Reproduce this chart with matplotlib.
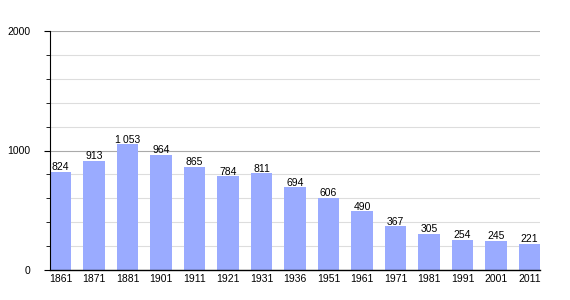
import matplotlib
matplotlib.use('Agg')
import matplotlib.pyplot as plt
import numpy as np

years = ['1861', '1871', '1881', '1901', '1911', '1921', '1931', '1936',
         '1951', '1961', '1971', '1981', '1991', '2001', '2011']
population = [824, 913, 1053, 964, 865, 784, 811, 694, 606, 490, 367, 305, 254, 245, 221]

plt.rcParams['font.family'] = ['Liberation Sans', 'DejaVu Sans']

fig = plt.figure(figsize=(5.7, 3.0), dpi=100)
ax = fig.add_axes([50/570, 30/300, 490/570, 239/300])

x = np.arange(len(years))
ax.bar(x, population, width=0.63, color='#9aabff', zorder=2)

for xi, v in zip(x, population):
    label = f'{v:,}'.replace(',', '\u2009')
    ax.text(xi, v - 4, label, ha='center', va='bottom', fontsize=7.5, zorder=3)

ax.set_xlim(-0.315, len(years) - 1 + 0.315)
ax.set_ylim(0, 2000)
ax.set_xticks(x)
ax.set_xticklabels(years)
ax.set_yticks([0, 1000, 2000])
ax.set_yticks(np.arange(200, 2000, 200), minor=True)
ax.tick_params(axis='y', which='major', length=4, labelsize=7.5, pad=10)
ax.tick_params(axis='y', which='minor', length=3)
ax.tick_params(axis='x', length=0, labelsize=7.5, pad=3)

ax.grid(axis='y', which='major', color='#aaaaaa', linewidth=0.8, zorder=0)
ax.grid(axis='y', which='minor', color='#dddddd', linewidth=0.8, zorder=0)

for s in ['top', 'right']:
    ax.spines[s].set_visible(False)
ax.spines['left'].set_linewidth(0.8)
ax.spines['bottom'].set_linewidth(1.0)

fig.savefig('out.png', dpi=100)
